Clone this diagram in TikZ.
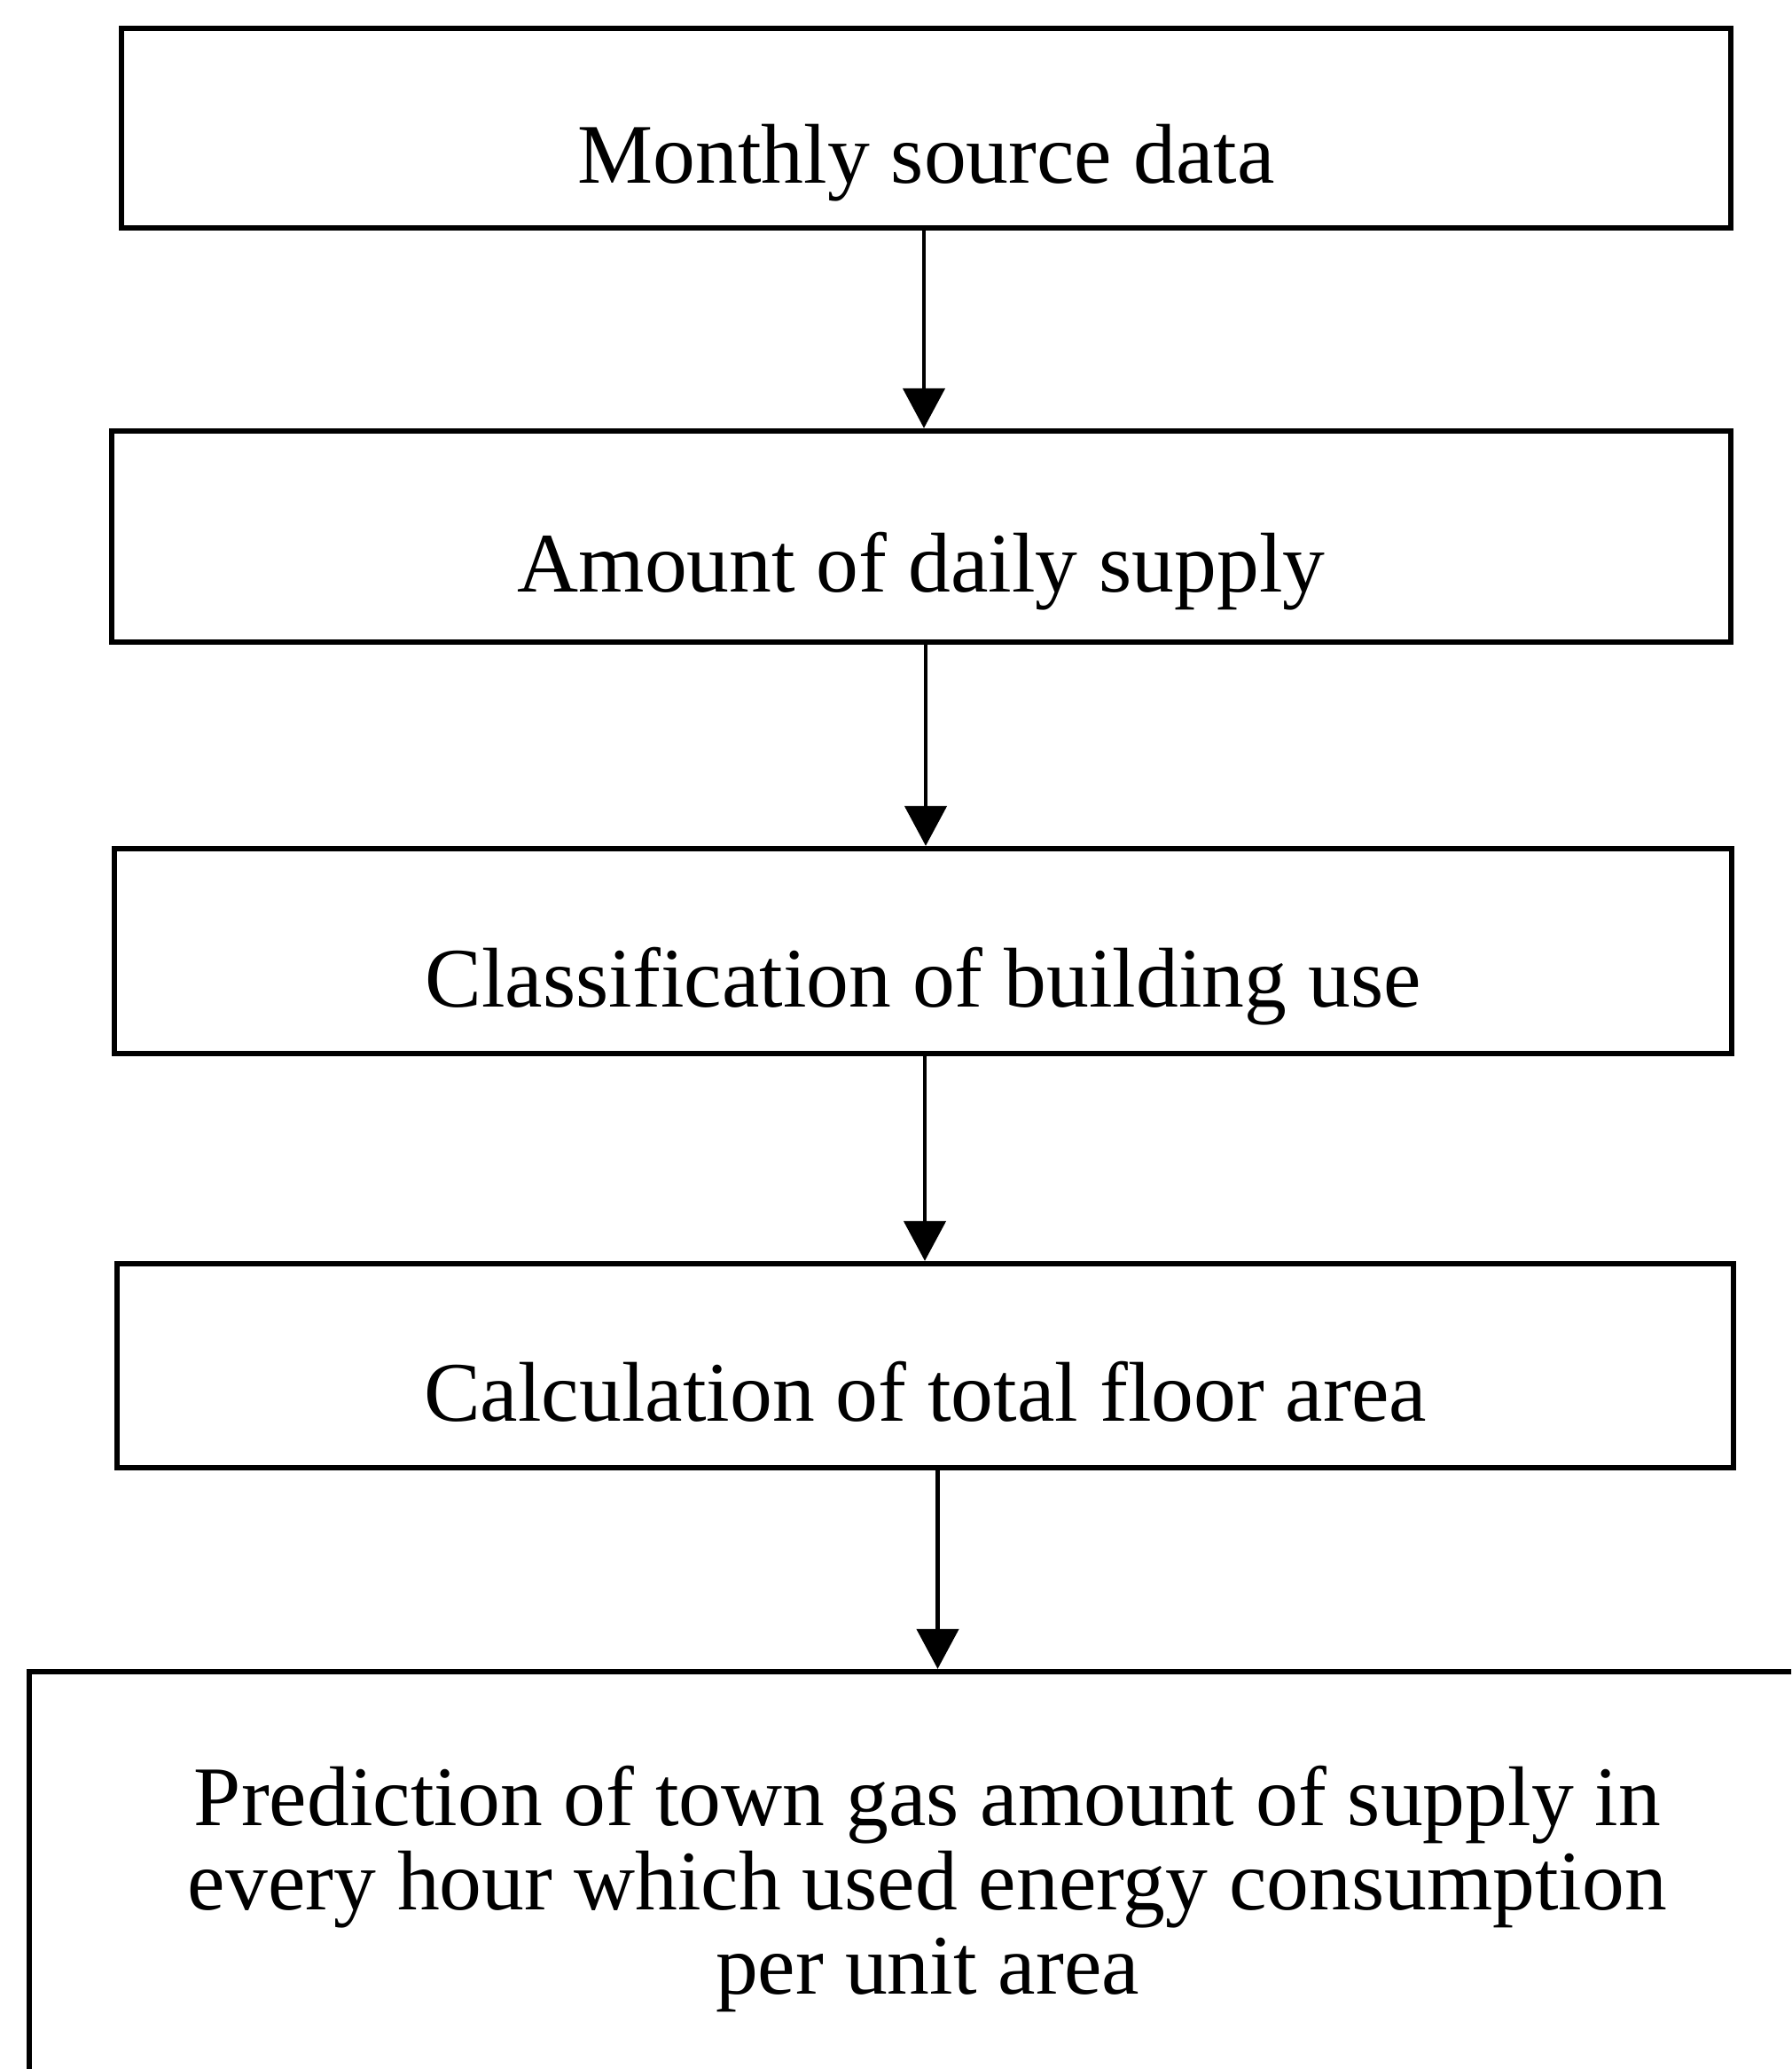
\documentclass[tikz,border=0pt]{standalone}
\usepackage{fontspec}
\setmainfont{Liberation Serif}
\usepackage{tikz}
\usetikzlibrary{
	arrows.meta, positioning, calc
}
\tikzset{
	stepbox/.style={draw, line width=1.8pt, rectangle, align=center,
		font=\fontsize{27.2}{27}\selectfont, text height=1.3cm, text depth=0.05cm},
	lastbox/.style={draw, line width=1.8pt, rectangle, align=center,
		font=\fontsize{27.2}{27}\selectfont},
	flow/.style={line width=1.3pt, -{Triangle[width=0.47cm,length=0.45cm]}}
}

\begin{document}
\begin{tikzpicture}
						\useasboundingbox (0,0) rectangle (20.20,-23.33);
						\clip (0,0) rectangle (20.20,-23.33);
						\node[stepbox, minimum width=18.15cm, minimum height=2.25cm] (b1) at (10.445,-1.445) {Monthly source data};
						\node[stepbox, minimum width=18.26cm, minimum height=2.38cm] (b2) at (10.39,-6.05) {Amount of daily supply};
						\node[stepbox, minimum width=18.24cm, minimum height=2.31cm] (b3) at (10.41,-10.725) {Classification of building use};
						\node[stepbox, minimum width=18.23cm, minimum height=2.30cm] (b4) at (10.435,-15.40) {Calculation of total floor area};
						\node[lastbox, minimum width=20.26cm, minimum height=4.90cm] (b5) at (10.46,-21.30) {Prediction of town gas amount of supply in\\ every hour which used energy consumption\\ per unit area};
						% arrows between the steps
						\draw[flow] ([xshift=-0.025cm]b1.south) -- ([xshift=-0.025cm]b1.south |- b2.north);
						\draw[flow] ([xshift=0.05cm]b2.south) -- ([xshift=0.05cm]b2.south |- b3.north);
						\draw[flow] ([xshift=0.02cm]b3.south) -- ([xshift=0.02cm]b3.south |- b4.north);
						\draw[flow] ([xshift=0.14cm]b4.south) -- ([xshift=0.14cm]b4.south |- b5.north);
					\end{tikzpicture}
\end{document}
